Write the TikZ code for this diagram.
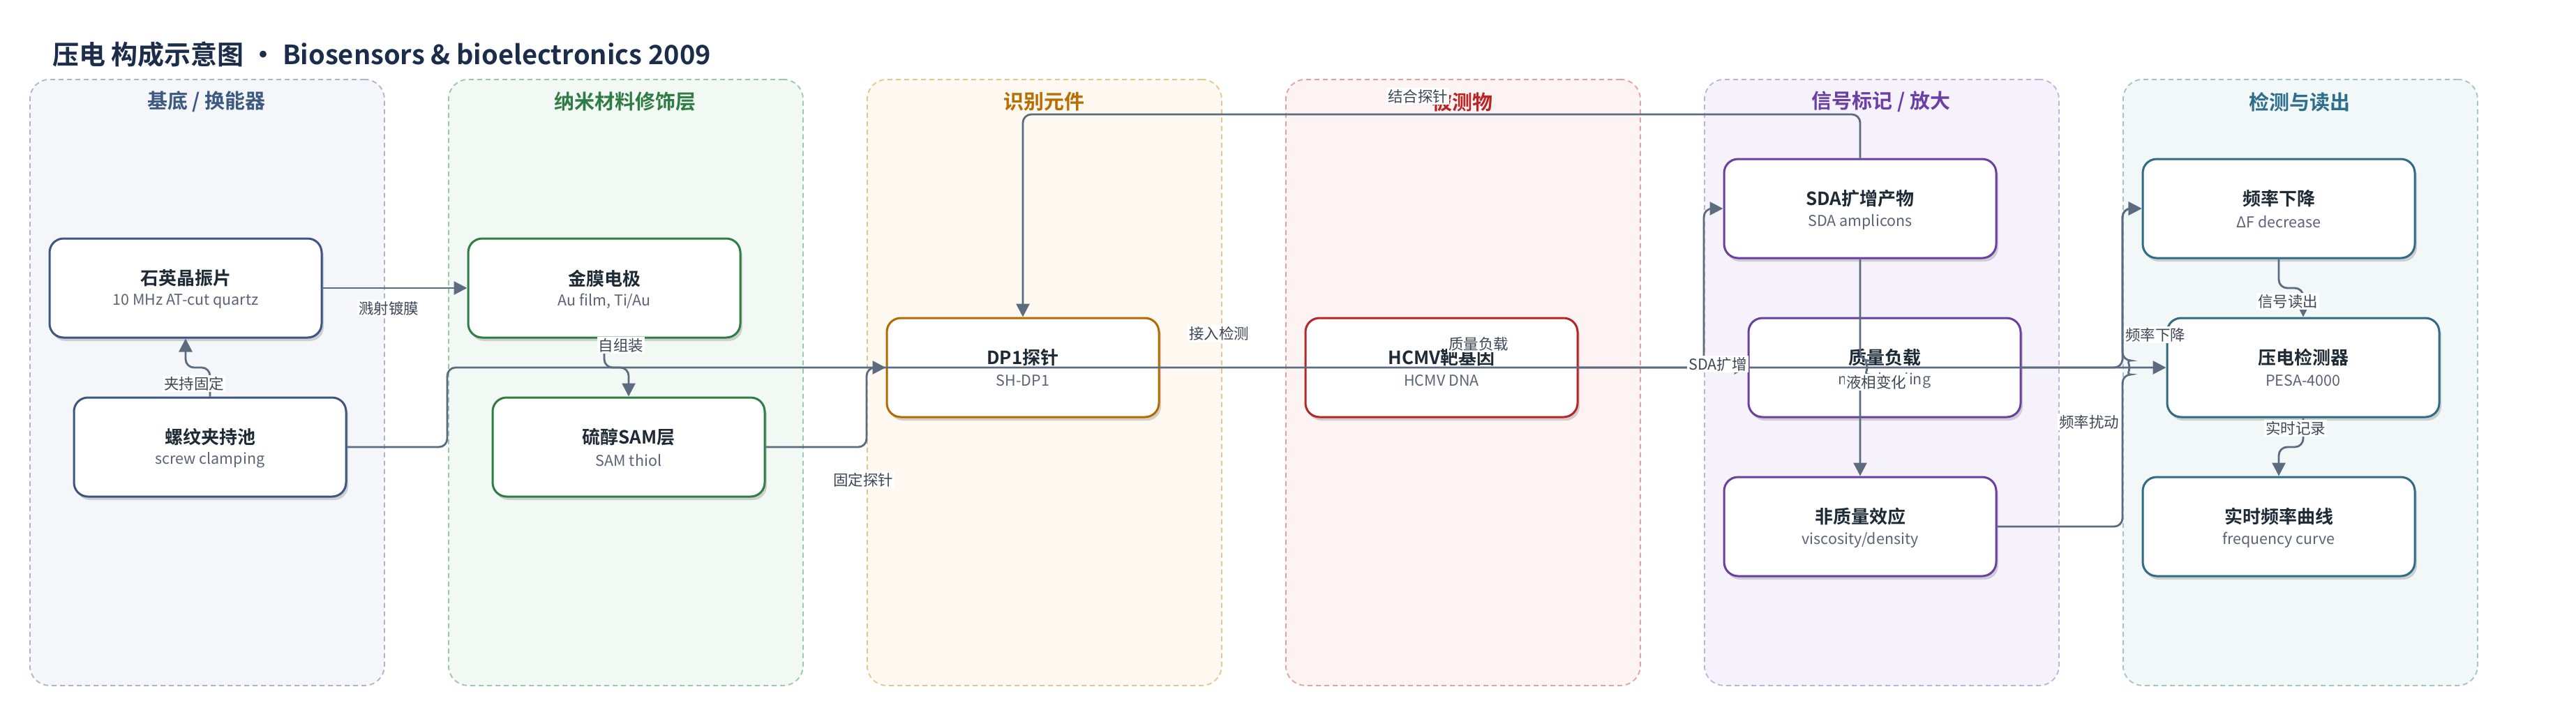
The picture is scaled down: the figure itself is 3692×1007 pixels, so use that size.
\documentclass[tikz,border=0pt]{standalone}
\usepackage{fontspec}
\setmainfont{Noto Sans CJK SC}[BoldFont={Noto Sans CJK SC Bold}]
\usetikzlibrary{arrows.meta,shadows}
\definecolor{ec}{HTML}{5B6B80}
\definecolor{lc}{HTML}{3D4756}
\definecolor{ttl}{HTML}{1B2D4B}
\definecolor{ntc}{HTML}{1F2A37}
\definecolor{nsc}{HTML}{5A6475}
\definecolor{pAd}{HTML}{A8B6CA}\definecolor{pAf}{HTML}{F4F6FA}\definecolor{pAt}{HTML}{3C5A80}\definecolor{pAb}{HTML}{3D5580}
\definecolor{pBd}{HTML}{98C8A6}\definecolor{pBf}{HTML}{F2F8F3}\definecolor{pBt}{HTML}{2F7D45}\definecolor{pBb}{HTML}{2E7D44}
\definecolor{pCd}{HTML}{E6C48E}\definecolor{pCf}{HTML}{FDF8F0}\definecolor{pCt}{HTML}{B86E00}\definecolor{pCb}{HTML}{B36B00}
\definecolor{pDd}{HTML}{E4A0A0}\definecolor{pDf}{HTML}{FDF3F2}\definecolor{pDt}{HTML}{B92525}\definecolor{pDb}{HTML}{B3262A}
\definecolor{pEd}{HTML}{C4AEE0}\definecolor{pEf}{HTML}{F6F2FB}\definecolor{pEt}{HTML}{6C3FA6}\definecolor{pEb}{HTML}{6A3FA0}
\definecolor{pFd}{HTML}{A2C2CC}\definecolor{pFf}{HTML}{F2F7F8}\definecolor{pFt}{HTML}{2C6E8C}\definecolor{pFb}{HTML}{2F6B85}
\tikzset{
  panel/.style 2 args={draw=#1, fill=#2, dash pattern=on 7pt off 5pt, line width=1.8pt, rounded corners=28pt,
    minimum width=508pt, minimum height=869pt, anchor=north west, inner sep=0pt},
  ptitle/.style={font=\bfseries\fontsize{29}{32}\selectfont, text=#1},
  box/.style={draw=#1, fill=white, line width=3pt, rounded corners=20pt, minimum width=390pt, minimum height=142pt,
    inner sep=0pt, drop shadow={shadow xshift=3pt, shadow yshift=-5pt, opacity=0.16, fill=black}},
  ntitle/.style={font=\bfseries\fontsize{26}{28}\selectfont, text=ntc, inner sep=0pt},
  nsub/.style={font=\fontsize{21.5}{24}\selectfont, text=nsc, inner sep=0pt},
  conn/.style={draw=ec, line width=2.8pt, rounded corners=12pt, -{Triangle[length=19pt,width=19pt]}},
  lab/.style={fill=white, text=lc, font=\fontsize{21.5}{24}\selectfont, inner sep=2pt},
}
\begin{document}
\begin{tikzpicture}[x=1pt,y=1pt]
\useasboundingbox[fill=white] (0,0) rectangle (3692,-1007);
% title
\node[anchor=west, font=\bfseries\fontsize{38}{42}\selectfont, text=ttl, inner sep=0pt] (title) at (75,-78)
  {压电 构成示意图 · Biosensors \& bioelectronics 2009};
% panels
\node[panel={pAd}{pAf}] (p1) at (42,-113) {};
\node[panel={pBd}{pBf}] (p2) at (642,-113) {};
\node[panel={pCd}{pCf}] (p3) at (1242,-113) {};
\node[panel={pDd}{pDf}] (p4) at (1842,-113) {};
\node[panel={pEd}{pEf}] (p5) at (2442,-113) {};
\node[panel={pFd}{pFf}] (p6) at (3042,-113) {};
\node[ptitle=pAt] (p1t) at (296,-146) {基底 / 换能器};
\node[ptitle=pBt] (p2t) at (896,-146) {纳米材料修饰层};
\node[ptitle=pCt] (p3t) at (1496,-146) {识别元件};
\node[ptitle=pDt] (p4t) at (2096,-146) {被测物};
\node[ptitle=pEt] (p5t) at (2696,-146) {信号标记 / 放大};
\node[ptitle=pFt] (p6t) at (3296,-146) {检测与读出};
% nodes
\node[box=pAb] (quartz) at (266,-413) {};
\node[ntitle] (quartz-t) at (266,-399) {石英晶振片};
\node[nsub] (quartz-s) at (266,-432) {10 MHz AT-cut quartz};
\node[box=pAb] (clamp) at (301,-641) {};
\node[ntitle] (clamp-t) at (301,-627) {螺纹夹持池};
\node[nsub] (clamp-s) at (301,-660) {screw clamping};
\node[box=pBb] (au) at (866,-413) {};
\node[ntitle] (au-t) at (866,-399) {金膜电极};
\node[nsub] (au-s) at (866,-432) {Au film, Ti/Au};
\node[box=pBb] (sam) at (901,-641) {};
\node[ntitle] (sam-t) at (901,-627) {硫醇SAM层};
\node[nsub] (sam-s) at (901,-660) {SAM thiol};
\node[box=pCb] (dp1) at (1466,-527) {};
\node[ntitle] (dp1-t) at (1466,-513) {DP1探针};
\node[nsub] (dp1-s) at (1466,-546) {SH-DP1};
\node[box=pDb] (hcmv) at (2066,-527) {};
\node[ntitle] (hcmv-t) at (2066,-513) {HCMV靶基因};
\node[nsub] (hcmv-s) at (2066,-546) {HCMV DNA};
\node[box=pEb] (sda) at (2666,-299) {};
\node[ntitle] (sda-t) at (2666,-285) {SDA扩增产物};
\node[nsub] (sda-s) at (2666,-318) {SDA amplicons};
\node[box=pEb] (mass) at (2701,-527) {};
\node[ntitle] (mass-t) at (2701,-513) {质量负载};
\node[nsub] (mass-s) at (2701,-546) {mass loading};
\node[box=pEb] (nonmass) at (2666,-755) {};
\node[ntitle] (nonmass-t) at (2666,-741) {非质量效应};
\node[nsub] (nonmass-s) at (2666,-774) {viscosity/density};
\node[box=pFb] (freq) at (3266,-299) {};
\node[ntitle] (freq-t) at (3266,-285) {频率下降};
\node[nsub] (freq-s) at (3266,-318) {ΔF decrease};
\node[box=pFb] (det) at (3301,-527) {};
\node[ntitle] (det-t) at (3301,-513) {压电检测器};
\node[nsub] (det-s) at (3301,-546) {PESA-4000};
\node[box=pFb] (curve) at (3266,-755) {};
\node[ntitle] (curve-t) at (3266,-741) {实时频率曲线};
\node[nsub] (curve-s) at (3266,-774) {frequency curve};
% connectors
\draw[conn] (quartz.east) -- (au.west);
\draw[conn] (clamp.north) -- (301,-527) -- (266,-527) -- (quartz.south);
\draw[conn] (au.south) -- (866,-527) -- (901,-527) -- (sam.north);
\draw[conn] (sam.east) -- (1242,-641) -- (1242,-527) -- (dp1.west);
\draw[conn] (clamp.east) -- (641,-641) -- (641,-527) -- (det.west);
\draw[conn] (sda.north) -- (2666,-164) -- (1466,-164) -- (dp1.north);
\draw[conn] (hcmv.east) -- (mass.west);
\draw[conn] (hcmv.east) -- (2442,-527) -- (2442,-299) -- (sda.west);
\draw[conn] (sda.south) -- (2666,-517) arc[start angle=90, end angle=-90, radius=10pt] -- (nonmass.north);
\draw[conn] (mass.east) -- (3042,-527) -- (3042,-299) -- (freq.west);
\draw[conn] (nonmass.east) -- (3042,-755) -- (3042,-537) arc[start angle=-90, end angle=90, radius=10pt] -- (3042,-299) -- (freq.west);
\draw[conn] (freq.south) -- (3266,-413) -- (3301,-413) -- (det.north);
\draw[conn] (det.south) -- (3301,-641) -- (3266,-641) -- (curve.north);
% labels
\node[lab] (l1) at (557,-442) {溅射镀膜};
\node[lab] (l2) at (278,-550) {夹持固定};
\node[lab] (l3) at (890,-495) {自组装};
\node[lab] (l4) at (1237,-688) {固定探针};
\node[lab] (l5) at (1747,-478) {接入检测};
\node[lab] (l6) at (2032,-138) {结合探针};
\node[lab] (l7) at (2119,-493) {质量负载};
\node[lab] (l8) at (2462,-522) {SDA扩增};
\node[lab] (l9) at (2689,-548) {液相变化};
\node[lab] (l10) at (3089,-480) {频率下降};
\node[lab] (l11) at (2994,-605) {频率扰动};
\node[lab] (l12) at (3279,-432) {信号读出};
\node[lab] (l13) at (3290,-614) {实时记录};
\end{tikzpicture}
\end{document}
